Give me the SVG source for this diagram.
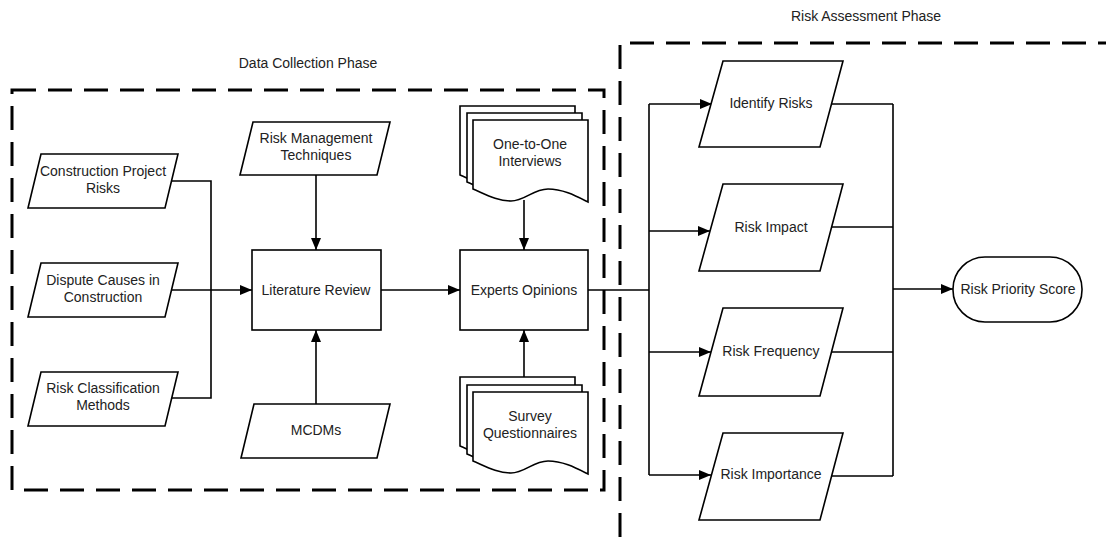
<svg xmlns="http://www.w3.org/2000/svg" xmlns:xlink="http://www.w3.org/1999/xlink" width="1106" height="537" viewBox="0 0 1106 537">
<style>
.shape{fill:#fff;stroke:#000;stroke-width:1.6}
.line{fill:none;stroke:#000;stroke-width:1.6}
.dash{fill:none;stroke:#000;stroke-width:3;stroke-dasharray:24 12}
text{font-family:"Liberation Sans",Arial,sans-serif;font-size:14px;fill:#222;text-anchor:middle}
</style>
<defs>
<marker id="arr" markerUnits="userSpaceOnUse" markerWidth="12" markerHeight="10" refX="12" refY="5" orient="auto">
<path d="M0,0 L12,5 L0,10 Z" fill="#000"/>
</marker>
<path id="doc" d="M0,0 H115 V82 C103,76 90,69 75,69 C60,69 52,81 38,81 C24,81 12,74 0,69 Z"/>
</defs>
<rect width="1106" height="537" fill="#fff"/>

<g id="phases">
<rect class="dash" x="12" y="90" width="592" height="400"/>
<path class="dash" d="M620,537 V43 H1106"/>
<text x="308" y="68">Data Collection Phase</text>
<text x="866" y="21">Risk Assessment Phase</text>
</g>

<g id="connectors">
<path class="line" d="M171,181 H211 V398 H171"/>
<path class="line" d="M171,290 H252" marker-end="url(#arr)"/>
<path class="line" d="M316,175 V250" marker-end="url(#arr)"/>
<path class="line" d="M316,404 V330" marker-end="url(#arr)"/>
<path class="line" d="M381,290 H460" marker-end="url(#arr)"/>
<path class="line" d="M524,200 V250" marker-end="url(#arr)"/>
<path class="line" d="M524,377 V330" marker-end="url(#arr)"/>
<path class="line" d="M588,290 H649"/>
<path class="line" d="M649,104 V475"/>
<path class="line" d="M649,104 H712" marker-end="url(#arr)"/>
<path class="line" d="M649,231 H710" marker-end="url(#arr)"/>
<path class="line" d="M649,352 H711" marker-end="url(#arr)"/>
<path class="line" d="M649,475 H711" marker-end="url(#arr)"/>
<path class="line" d="M832,104 H893 M832,227 H893 M832,352 H893 M832,476 H893 M893,104 V476"/>
<path class="line" d="M893,289 H953" marker-end="url(#arr)"/>
</g>

<g id="construction-project-risks">
<polygon class="shape" points="41,154 178,154 165,208 28,208"/>
<text x="103" y="176">Construction Project</text>
<text x="103" y="193">Risks</text>
</g>
<g id="dispute-causes">
<polygon class="shape" points="41,263 178,263 165,317 28,317"/>
<text x="103" y="285">Dispute Causes in</text>
<text x="103" y="302">Construction</text>
</g>
<g id="risk-classification">
<polygon class="shape" points="41,372 178,372 165,426 28,426"/>
<text x="103" y="393">Risk Classification</text>
<text x="103" y="410">Methods</text>
</g>
<g id="risk-management-techniques">
<polygon class="shape" points="253,122 390,122 377,175 240,175"/>
<text x="316" y="143">Risk Management</text>
<text x="316" y="160">Techniques</text>
</g>
<g id="mcdms">
<polygon class="shape" points="254,404 390,404 377,458 241,458"/>
<text x="316" y="435">MCDMs</text>
</g>
<g id="literature-review">
<rect class="shape" x="252" y="250" width="129" height="80"/>
<text x="316" y="295">Literature Review</text>
</g>
<g id="experts-opinions">
<rect class="shape" x="460" y="250" width="128" height="80"/>
<text x="524" y="295">Experts Opinions</text>
</g>
<g id="one-to-one-interviews">
<use xlink:href="#doc" class="shape" x="460" y="106"/>
<use xlink:href="#doc" class="shape" x="467" y="113"/>
<use xlink:href="#doc" class="shape" x="473" y="120"/>
<text x="530" y="149">One-to-One</text>
<text x="530" y="166">Interviews</text>
</g>
<g id="survey-questionnaires">
<use xlink:href="#doc" class="shape" x="460" y="377"/>
<use xlink:href="#doc" class="shape" x="467" y="385"/>
<use xlink:href="#doc" class="shape" x="473" y="392"/>
<text x="530" y="421">Survey</text>
<text x="530" y="438">Questionnaires</text>
</g>
<g id="identify-risks">
<polygon class="shape" points="723,61 843,61 820,147 699,147"/>
<text x="771" y="108">Identify Risks</text>
</g>
<g id="risk-impact">
<polygon class="shape" points="723,184 843,184 820,271 699,271"/>
<text x="771" y="232">Risk Impact</text>
</g>
<g id="risk-frequency">
<polygon class="shape" points="723,308 843,308 820,396 699,396"/>
<text x="771" y="356">Risk Frequency</text>
</g>
<g id="risk-importance">
<polygon class="shape" points="723,433 843,433 820,520 699,520"/>
<text x="771" y="479">Risk Importance</text>
</g>
<g id="risk-priority-score">
<rect class="shape" x="953" y="257" width="129" height="65" rx="32" ry="32"/>
<text x="1018" y="294">Risk Priority Score</text>
</g>
</svg>
